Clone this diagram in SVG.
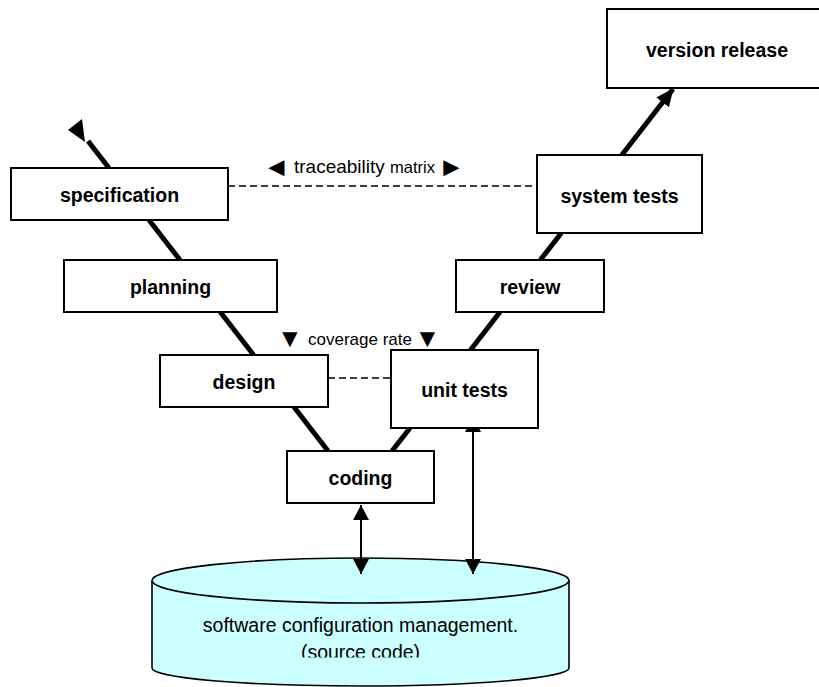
<svg xmlns="http://www.w3.org/2000/svg" width="819" height="687" viewBox="0 0 819 687">
<style>
.box{fill:#fff;stroke:#000;stroke-width:2}
.lbl{font-family:"Liberation Sans",Arial,sans-serif;font-weight:bold;font-size:19.5px;text-anchor:middle;fill:#000}
.txt{font-family:"Liberation Sans",Arial,sans-serif;fill:#000}
.v{stroke:#000;stroke-width:5;fill:none}
.dash{stroke:#000;stroke-width:1.4;stroke-dasharray:7 4;fill:none}
.thin{stroke:#000;stroke-width:2;fill:none}
</style>
<defs>
<marker id="bigArrow" markerUnits="userSpaceOnUse" markerWidth="20" markerHeight="18" refX="17" refY="8" orient="auto">
<path d="M0,0 L18,8 L0,16 Z" fill="#000"/>
</marker>
<marker id="smallArrow" markerUnits="userSpaceOnUse" markerWidth="18" markerHeight="18" refX="15" refY="8.5" orient="auto-start-reverse">
<path d="M0,0.5 L15,8.5 L0,16.5 Z" fill="#000"/>
</marker>
<clipPath id="dbclip"><rect x="140" y="600" width="450" height="57.5"/></clipPath>
</defs>

<g id="db">
<path d="M152,580.5 L152,668 A208.5,18 0 0 0 569,668 L569,580.5" fill="#ccffff" stroke="#000" stroke-width="1.6"/>
<ellipse cx="360.5" cy="580.5" rx="208.5" ry="22.5" fill="#ccffff" stroke="#000" stroke-width="1.6"/>
<g clip-path="url(#dbclip)">
<text class="txt" x="360.5" y="632" font-size="19.5" text-anchor="middle">software configuration management.</text>
<text class="txt" x="360.5" y="659" font-size="19.5" text-anchor="middle">(source code)</text>
</g>
</g>

<g id="connectors">
<polygon points="82,119 68,130 85,142" fill="#000"/>
<line class="v" x1="88" y1="141" x2="109" y2="168"/>
<line class="v" x1="149" y1="220" x2="180" y2="260"/>
<line class="v" x1="220.3" y1="312" x2="253.6" y2="355"/>
<line class="v" x1="294" y1="407" x2="328" y2="451"/>
<line class="v" x1="621.8" y1="155" x2="673" y2="89" marker-end="url(#bigArrow)"/>
<line class="v" x1="561.3" y1="233" x2="540.3" y2="260"/>
<line class="v" x1="500" y1="312" x2="470.5" y2="350"/>
<line class="v" x1="410" y1="428" x2="392" y2="451"/>
<line class="dash" x1="228" y1="186" x2="537" y2="186"/>
<line class="dash" x1="328" y1="378" x2="391" y2="378"/>
<line class="thin" x1="361" y1="505" x2="361" y2="574" marker-start="url(#smallArrow)" marker-end="url(#smallArrow)"/>
<line class="thin" x1="473" y1="417" x2="473" y2="574" marker-start="url(#smallArrow)" marker-end="url(#smallArrow)"/>
</g>

<g id="specification"><rect class="box" x="11" y="168" width="217" height="52"/><text class="lbl" x="119.5" y="201.5">specification</text></g>
<g id="planning"><rect class="box" x="64" y="260" width="213" height="52"/><text class="lbl" x="170.5" y="293.5">planning</text></g>
<g id="design"><rect class="box" x="160" y="355" width="168" height="52"/><text class="lbl" x="244" y="388.5">design</text></g>
<g id="coding"><rect class="box" x="287" y="451" width="147" height="52"/><text class="lbl" x="360.5" y="485">coding</text></g>
<g id="unit-tests"><rect class="box" x="391" y="350" width="147" height="78"/><text class="lbl" x="464.5" y="397">unit tests</text></g>
<g id="review"><rect class="box" x="456" y="260" width="148" height="52"/><text class="lbl" x="530" y="294">review</text></g>
<g id="system-tests"><rect class="box" x="537" y="155" width="165" height="78"/><text class="lbl" x="619.5" y="202.5">system tests</text></g>
<g id="version-release"><rect class="box" x="607" y="9" width="220" height="79"/><text class="lbl" x="717" y="57">version release</text></g>

<g id="labels">
<text class="txt" x="294" y="173" font-size="19">traceability<tspan x="390" font-size="16.5">matrix</tspan></text>
<text class="txt" y="176" font-size="27"><tspan x="263">◄</tspan><tspan x="438">►</tspan></text>
<text class="txt" x="308" y="345" font-size="17">coverage rate</text>
<text class="txt" y="347" font-size="26"><tspan x="277">▼</tspan><tspan x="414.5">▼</tspan></text>
</g>
</svg>
